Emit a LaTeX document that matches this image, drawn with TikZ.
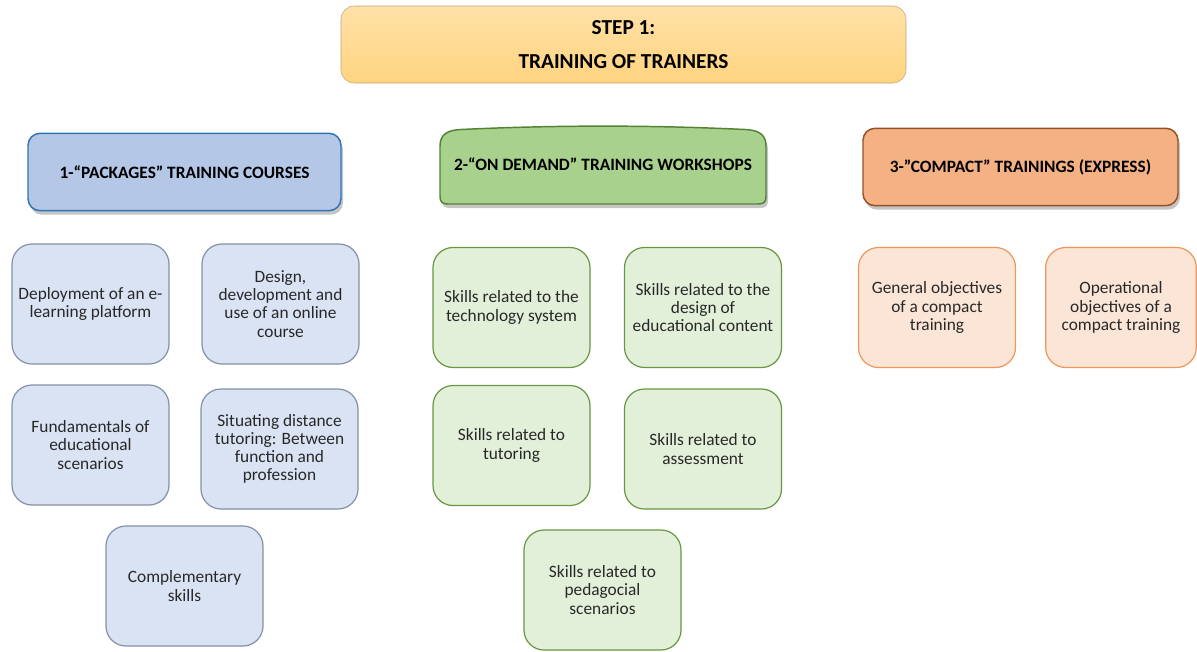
\documentclass[tikz,border=0pt]{standalone}
\usepackage{fontspec}
\setmainfont{Carlito}
\usetikzlibrary{shadows}

\definecolor{steptop}{RGB}{255,224,166}
\definecolor{stepbot}{RGB}{255,212,128}
\definecolor{stepline}{RGB}{190,165,120}
\definecolor{packfill}{RGB}{180,199,231}
\definecolor{packline}{RGB}{46,117,182}
\definecolor{demandfill}{RGB}{169,209,142}
\definecolor{demandline}{RGB}{84,130,53}
\definecolor{compactfill}{RGB}{244,177,131}
\definecolor{compactline}{RGB}{150,80,40}
\definecolor{packitem}{RGB}{218,227,243}
\definecolor{packitemline}{RGB}{132,145,165}
\definecolor{demanditem}{RGB}{226,240,217}
\definecolor{demanditemline}{RGB}{105,150,65}
\definecolor{compactitem}{RGB}{251,229,214}
\definecolor{compactitemline}{RGB}{240,150,90}
\definecolor{itemtext}{RGB}{40,40,40}

\begin{document}
\begin{tikzpicture}[x=0.75pt,y=-0.75pt,
    steptitle/.style={draw=stepline, rounded corners=10pt, top color=steptop, bottom color=stepbot,
        minimum width=423.75pt, minimum height=57.75pt, align=center,
        font=\fontsize{16}{19}\selectfont\bfseries},
    headshadow/.style={drop shadow={opacity=.45, shadow xshift=1.5pt, shadow yshift=-3pt}},
    head/.style={rounded corners=9pt, line width=1.1pt, minimum height=58pt,
        font=\fontsize{13}{15}\selectfont\bfseries, headshadow},
    item/.style={rounded corners=15pt, line width=.9pt, minimum width=117.75pt, minimum height=90pt,
        align=center, text=itemtext, font=\fontsize{13}{13.6}\selectfont},
    packitem/.style={item, draw=packitemline, fill=packitem},
    demanditem/.style={item, draw=demanditemline, fill=demanditem},
    compactitem/.style={item, draw=compactitemline, fill=compactitem}]
\fill[white] (0,0) rectangle (1197,651);
\useasboundingbox (0,0) rectangle (1197,651);

\node[steptitle] (step) at (623.5,44.5) {STEP 1:\\[6pt]TRAINING OF TRAINERS};

\node[head, draw=packline, fill=packfill, minimum width=234.75pt] (packages) at (184.5,172) {1-“PACKAGES” TRAINING COURSES};
\path[draw=demandline, fill=demandfill, line width=1.1pt, line join=round, headshadow]
    (440,146) -- (440,196) .. controls (440,202) and (442,204) .. (448,204)
    -- (758,204) .. controls (764,204) and (766,202) .. (766,196)
    -- (766,146) .. controls (766,134) and (758,130) .. (745,129.5)
    .. controls (650,125) and (556,125) .. (461,129.5)
    .. controls (448,130) and (440,134) .. (440,146) -- cycle;
\node[font=\fontsize{13}{15}\selectfont\bfseries] (demand) at (603,164) {2-“ON DEMAND” TRAINING WORKSHOPS};
\node[head, draw=compactline, fill=compactfill, minimum width=236.25pt] (compact) at (1020.5,167) {3-”COMPACT” TRAININGS (EXPRESS)};

\node[packitem] (platform) at (90.5,304) {Deployment of an e-\\learning platform};
\node[packitem] (course) at (280.5,304) {Design,\\development and\\use of an online\\course};
\node[packitem] (scenarios) at (90.5,445) {Fundamentals of\\educational\\scenarios};
\node[packitem] (tutoring) at (279.5,449) {Situating distance\\tutoring: Between\\function and\\profession};
\node[packitem] (complement) at (184.5,586) {Complementary\\skills};

\node[demanditem] (techskill) at (511.5,307.5) {Skills related to the\\technology system};
\node[demanditem] (designskill) at (703,307.5) {Skills related to the\\design of\\educational content};
\node[demanditem] (tutorskill) at (511.5,445.5) {Skills related to\\tutoring};
\node[demanditem] (assessskill) at (703,449) {Skills related to\\assessment};
\node[demanditem] (pedaskill) at (602.5,590) {Skills related to\\pedagocial\\scenarios};

\node[compactitem] (general) at (937,307.5) {General objectives\\of a compact\\training};
\node[compactitem, minimum width=113pt] (operational) at (1121,307.5) {Operational\\objectives of a\\compact training};
\end{tikzpicture}
\end{document}
